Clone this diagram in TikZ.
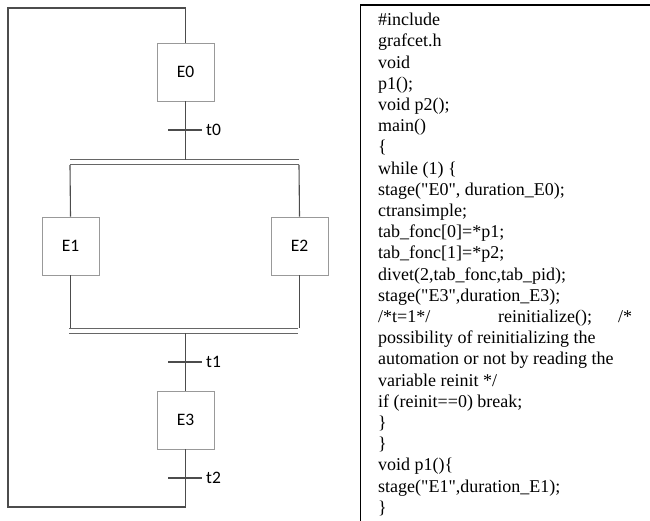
\documentclass[tikz,border=0pt]{standalone}
\usepackage{fontspec}
\setmainfont{Liberation Serif}[Ligatures=TeXOff]
\newfontfamily\labelfont{Carlito}
\begin{document}
\begin{tikzpicture}[x=1pt,y=-1pt,
  stepbox/.style={draw=black!40,line width=0.9pt,minimum width=57pt,minimum height=58pt,inner sep=0pt,font=\labelfont\fontsize{17.5}{18}\selectfont},
  wire/.style={draw=black!70,line width=1.1pt},
  bar/.style={draw=black!60,line width=1pt},
  tlabel/.style={anchor=west,inner sep=0pt,font=\labelfont\fontsize{17.5}{18}\selectfont}]
\useasboundingbox (0,0) rectangle (650,521);
% steps
\node[stepbox] (E0) at (185.5,72) {E0};
\node[stepbox] (E1) at (70.5,246) {E1};
\node[stepbox] (E2) at (299.5,246) {E2};
\node[stepbox] (E3) at (185.5,420) {E3};
% coordinates
\coordinate (bt1) at (70,160);
\coordinate (bt2) at (299,160);
\coordinate (bt3) at (70,165);
\coordinate (bt4) at (299,165);
\coordinate (bb1) at (69,328);
\coordinate (bb2) at (298,328);
\coordinate (bb3) at (69,333);
\coordinate (bb4) at (298,333);
\coordinate (t0a) at (168,130);
\coordinate (t0b) at (202,130);
\coordinate (t1a) at (168,362);
\coordinate (t1b) at (202,362);
\coordinate (t2a) at (168,478);
\coordinate (t2b) at (202,478);
\coordinate (lp1) at (185.5,507);
\coordinate (lp2) at (8,507);
\coordinate (lp3) at (8,8);
\coordinate (lp4) at (185.5,8);
% double bars
\draw[bar] (bt1) -- (bt2);
\draw[bar] (bt3) -- (bt4);
\draw[bar] (bb1) -- (bb2);
\draw[bar] (bb3) -- (bb4);
% connectors
\draw[wire] (E0.south) -- (E0.south |- bt1);
\draw[wire] (bt3) -- (E1.north);
\draw[wire] (bt4) -- (E2.north);
\draw[wire] (E1.south) -- (E1.south |- bb1);
\draw[wire] (E2.south) -- (E2.south |- bb1);
\draw[wire] (E3.north |- bb3) -- (E3.north);
\draw[wire] (E3.south) -- (lp1) -- (lp2) -- (lp3) -- (lp4) -- (E0.north);
% transitions
\draw[wire] (t0a) -- (t0b);
\draw[wire] (t1a) -- (t1b);
\draw[wire] (t2a) -- (t2b);
\node[tlabel] (lt0) at (206,130) {t0};
\node[tlabel] (lt1) at (206,362) {t1};
\node[tlabel] (lt2) at (206,478) {t2};
% code frame
\coordinate (fr1) at (360.5,521);
\coordinate (fr2) at (360.5,5);
\coordinate (fr3) at (650,5);
\draw[black,line width=1.3pt] (fr1) -- (fr2) -- (fr3);
\node[anchor=north west,inner sep=0pt,align=left,font=\fontsize{18}{21.2}\selectfont] (code) at (378,13) {%
\#include\\
grafcet.h\\
void\\
p1();\\
void p2();\\
main()\\
\{\\
while (1) \{\\
stage("E0", duration\_E0);\\
ctransimple;\\
tab\_fonc[0]=*p1;\\
tab\_fonc[1]=*p2;\\
divet(2,tab\_fonc,tab\_pid);\\
stage("E3",duration\_E3);\\
\makebox[120pt][l]{/*t=1*/}\makebox[120pt][l]{reinitialize();}/*\\
possibility of reinitializing the\\
automation or not by reading the\\
variable reinit */\\
if (reinit==0) break;\\
\}\\
\}\\
void p1()\{\\
stage("E1",duration\_E1);\\
\}};
\end{tikzpicture}
\end{document}
